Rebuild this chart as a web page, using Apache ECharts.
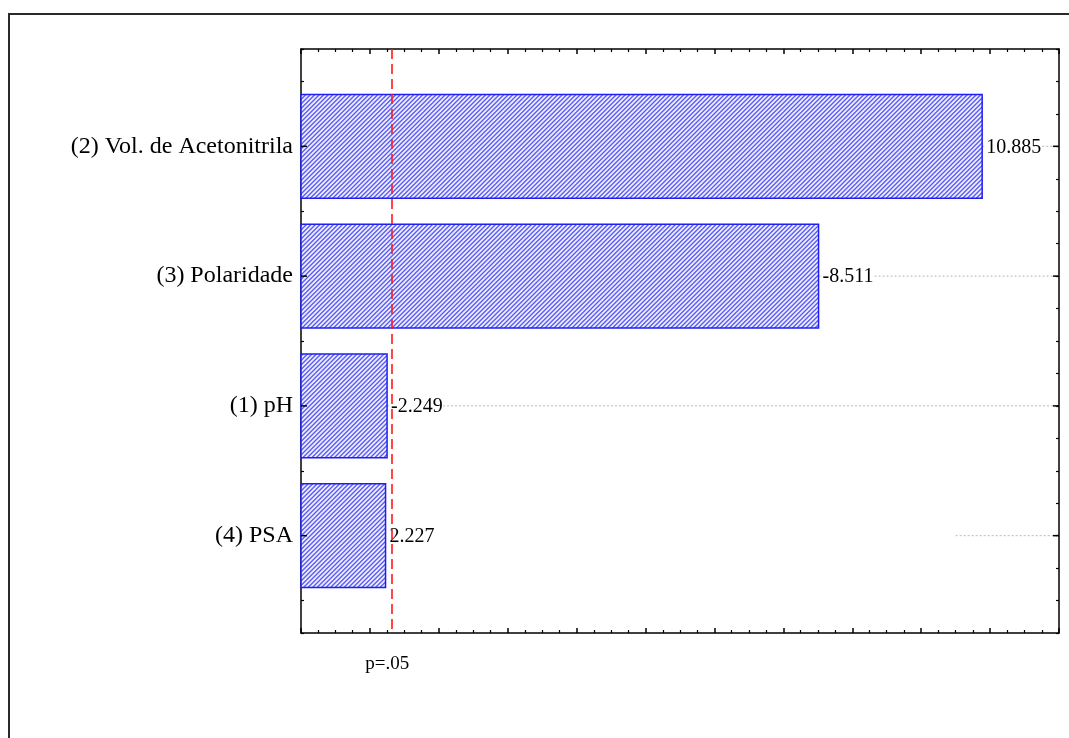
<!DOCTYPE html>
<html>
<head>
<meta charset="utf-8">
<script src="https://cdn.jsdelivr.net/npm/echarts@6/dist/echarts.min.js"></script>
<style>
html,body{margin:0;padding:0;background:#fff;}
#chart{width:1069px;height:738px;}
</style>
</head>
<body>
<div id="chart"></div>
<script>
// ---- data ----
const categories = ['(2) Vol. de Acetonitrila', '(3) Polaridade', '(1) pH', '(4) PSA'];
const effects = [10.885, -8.511, -2.249, 2.227];
const pCritical = 2.306;
const pLabel = 'p=.05';

// ---- axis settings ----
const X_MIN = 1, X_MAX = 12, X_INT = 1;
const Y_MIN = 0.25, Y_MAX = 4.75, Y_INT = 0.25;
const BAR_HALF = 0.4;
const FONT = '"Liberation Serif", "Times New Roman", serif';

// hatch pattern
function makeHatch() {
  const S = 9, p = 4.5;
  const c = document.createElement('canvas');
  c.width = S; c.height = S;
  const g = c.getContext('2d');
  g.fillStyle = '#eef0ff';
  g.fillRect(0, 0, S, S);
  g.strokeStyle = '#5c5cf4';
  g.lineWidth = 1.4;
  for (let k = -3; k <= 7; k++) {
    const cc = k * p;
    g.beginPath();
    g.moveTo(cc + 20, -20);
    g.lineTo(cc - 20, 20);
    g.stroke();
  }
  return c;
}
const hatch = makeHatch();

const seriesData = effects.map((e, i) => [Math.abs(e), i + 1, e]);

const chart = echarts.init(document.getElementById('chart'), null, {renderer: 'canvas'});

const axisLineStyle = {color: '#000', width: 1.5};
function xAxisCfg(pos) {
  return {
    type: 'value', position: pos, min: X_MIN, max: X_MAX, interval: X_INT,
    axisLine: {show: true, onZero: false, lineStyle: axisLineStyle},
    axisTick: {show: true, inside: true, length: 5, lineStyle: {color: '#000', width: 1.5}},
    minorTick: {show: true, splitNumber: 4, length: 3, lineStyle: {color: '#000', width: 1.2}},
    axisLabel: {show: false},
    splitLine: {show: false}
  };
}
function yAxisCfg(pos, labels) {
  return {
    type: 'value', position: pos, inverse: true, min: Y_MIN, max: Y_MAX, interval: Y_INT,
    axisLine: {show: true, onZero: false, lineStyle: axisLineStyle},
    axisTick: {show: true, inside: true, length: 3, lineStyle: {color: '#000', width: 1.2}},
    axisLabel: labels ? {
      show: true, margin: 8, color: '#000', fontFamily: FONT, fontSize: 24,
      formatter: function (v) {
        const r = Math.round(v);
        if (Math.abs(v - r) < 1e-6 && r >= 1 && r <= categories.length) return categories[r - 1];
        return '';
      }
    } : {show: false},
    splitLine: {show: false}
  };
}

const ROW4_GRID_FROM = 10.5;

chart.setOption({
  animation: false,
  backgroundColor: '#fff',
  grid: {left: 301, top: 49, right: 10, bottom: 105, containLabel: false},
  xAxis: [xAxisCfg('bottom'), xAxisCfg('top')],
  yAxis: [yAxisCfg('left', true), yAxisCfg('right', false)],
  graphic: [{
    type: 'rect', z: 100, silent: true,
    shape: {x: 9, y: 14, width: 1300, height: 900},
    style: {fill: 'none', stroke: '#2a2a2a', lineWidth: 2}
  }],
  series: [{
    type: 'custom',
    xAxisIndex: 0, yAxisIndex: 0,
    data: seriesData,
    encode: {x: 0, y: 1},
    clip: false,
    renderItem: function (params, api) {
      const v = api.value(0), c = api.value(1), signed = api.value(2);
      const a = api.coord([X_MIN, c - BAR_HALF]);
      const b = api.coord([v, c + BAR_HALF]);
      const mid = api.coord([v, c]);
      const left = api.coord([X_MIN, c]);
      const right = api.coord([X_MAX, c]);
      const x0 = a[0], x1 = b[0];
      const y0 = Math.min(a[1], b[1]), y1 = Math.max(a[1], b[1]);
      const gridFrom = (params.dataIndex === 3) ? api.coord([ROW4_GRID_FROM, c])[0] : x1;
      return {
        type: 'group',
        children: [
          {
            type: 'line', z2: 1,
            shape: {x1: gridFrom, y1: mid[1], x2: right[0], y2: mid[1]},
            style: {stroke: '#b8b8b8', lineWidth: 1, lineDash: [2, 2]}
          },
          {
            type: 'rect', z2: 2,
            shape: {x: x0, y: y0, width: x1 - x0, height: y1 - y0},
            style: {fill: {image: hatch, repeat: 'repeat'}, stroke: '#1f1ff0', lineWidth: 1.5}
          },
          {
            type: 'line', z2: 4,
            shape: {x1: left[0], y1: mid[1], x2: left[0] + 6, y2: mid[1]},
            style: {stroke: '#000', lineWidth: 1.5}
          },
          {
            type: 'line', z2: 4,
            shape: {x1: right[0] - 6, y1: mid[1], x2: right[0], y2: mid[1]},
            style: {stroke: '#000', lineWidth: 1.5}
          },
          {
            type: 'text', z2: 3,
            style: {
              x: x1 + 4, y: mid[1] + 1, text: signed.toFixed(3),
              fill: '#000', font: '20px ' + FONT,
              align: 'left', verticalAlign: 'middle',
              backgroundColor: '#fff'
            }
          }
        ]
      };
    },
    markLine: {
      silent: true,
      symbol: ['none', 'none'],
      lineStyle: {color: '#ff1a1a', width: 1.6, type: [10, 5]},
      label: {show: true, position: 'end', formatter: pLabel, color: '#000',
              fontFamily: FONT, fontSize: 19, distance: 20, offset: [-4, 2]},
      data: [{xAxis: pCritical}]
    }
  }]
});
</script>
</body>
</html>
